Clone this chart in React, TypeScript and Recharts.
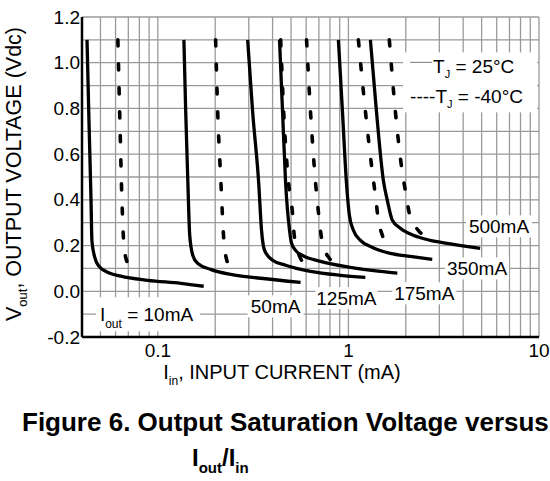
import React from "react";
import { LineChart, Line, XAxis, YAxis, CartesianGrid, ReferenceDot } from "recharts";

const FONT = "'Liberation Sans', Arial, Helvetica, sans-serif";

// [Iin (mA), Vout (V)]
const i10_25: number[][] = [[0.0425,1.1],[0.0435,0.75],[0.0446,0.4],[0.0451,0.22],[0.0468,0.145],[0.0491,0.11],[0.0534,0.087],[0.064,0.066],[0.0887,0.048],[0.132,0.035],[0.174,0.022]];
const i10_m40: number[][] = [[0.0617,1.1],[0.0632,0.75],[0.0648,0.4],[0.0664,0.2],[0.0689,0.127],[0.0723,0.08]];
const i50_25: number[][] = [[0.137,1.1],[0.14,0.79],[0.1436,0.486],[0.147,0.245],[0.1526,0.157],[0.162,0.122],[0.189,0.096],[0.241,0.074],[0.346,0.057],[0.561,0.039]];
const i50_m40: number[][] = [[0.201,1.1],[0.206,0.79],[0.214,0.486],[0.222,0.223],[0.23,0.136],[0.244,0.096]];
const i125_25: number[][] = [[0.296,1.1],[0.314,0.79],[0.338,0.477],[0.35,0.267],[0.363,0.179],[0.4,0.136],[0.468,0.114],[0.632,0.087],[0.908,0.07],[1.227,0.061]];
const i125_m40: number[][] = [[0.441,1.1],[0.457,0.79],[0.485,0.477],[0.509,0.341],[0.521,0.236],[0.561,0.144],[0.603,0.109]];
const i175_25: number[][] = [[0.435,1.1],[0.451,0.79],[0.468,0.477],[0.491,0.267],[0.503,0.21],[0.528,0.179],[0.574,0.157],[0.713,0.131],[1.024,0.105],[1.471,0.087],[1.806,0.079]];
const i175_m40: number[][] = [[0.603,1.1],[0.632,0.79],[0.672,0.477],[0.697,0.341],[0.731,0.21],[0.795,0.144],[0.855,0.118]];
const i350_25: number[][] = [[0.886,1.1],[0.93,0.79],[0.976,0.477],[1.012,0.332],[1.062,0.267],[1.156,0.223],[1.336,0.192],[1.66,0.166],[2.112,0.153],[2.753,0.14]];
const i350_m40: number[][] = [[1.128,1.1],[1.227,0.79],[1.336,0.52],[1.385,0.42],[1.436,0.311],[1.507,0.245],[1.6,0.201]];
const i500_25: number[][] = [[1.304,1.1],[1.402,0.79],[1.525,0.486],[1.6,0.398],[1.7,0.311],[1.872,0.276],[2.19,0.245],[2.688,0.223],[3.299,0.21],[4.911,0.188]];
const i500_m40: number[][] = [[1.639,1.1],[1.762,0.79],[1.918,0.52],[1.988,0.442],[2.112,0.324],[2.325,0.267],[2.592,0.236]];

const solidSeries = [i10_25, i50_25, i125_25, i175_25, i350_25, i500_25];
const dashedSeries = [i10_m40, i50_m40, i125_m40, i175_m40, i350_m40, i500_m40];

const xTicks = [0.05,0.06,0.07,0.08,0.09,0.1,0.2,0.3,0.4,0.5,0.6,0.7,0.8,0.9,1,2,3,4,5,6,7,8,9,10];
const xTickLabels: Record<string, string> = { "0.1": "0.1", "1": "1", "10": "10" };
const yTicks = [-0.2,-0.1,0,0.1,0.2,0.3,0.4,0.5,0.6,0.7,0.8,0.9,1,1.1,1.2];
const yTickLabels: Record<string, string> = { "-0.2": "-0.2", "0": "0.0", "0.2": "0.2", "0.4": "0.4", "0.6": "0.6", "0.8": "0.8", "1": "1.0", "1.2": "1.2" };

// curve labels: text, x (mA), y (V), box width, box height
const curveLabels = [
  { text: "50mA", x: 0.415, y: -0.066, w: 56, h: 22 },
  { text: "125mA", x: 0.976, y: -0.03, w: 62, h: 22 },
  { text: "175mA", x: 2.5, y: -0.009, w: 64, h: 22 },
  { text: "350mA", x: 4.73, y: 0.1, w: 64, h: 22 },
  { text: "500mA", x: 6.17, y: 0.284, w: 66, h: 22 },
];
const iout10Label = { x: 0.0887, y: -0.105 };
const legendAnchor = { x: 4.35, y: 0.914 };

const toData = (arr: number[][]) => arr.map(([x, y]) => ({ x, y }));

const XTick = (props: any) => {
  const { x, y, payload } = props;
  const t = xTickLabels[String(payload.value)];
  if (!t) return null;
  return (
    <text x={x} y={y + 12} textAnchor="middle" fontFamily={FONT} fontSize={19} fill="#000">{t}</text>
  );
};

const YTick = (props: any) => {
  const { x, y, payload } = props;
  const key = String(Math.round(payload.value * 10) / 10);
  const t = yTickLabels[key];
  if (!t) return null;
  return (
    <text x={x} y={y} textAnchor="end" dominantBaseline="central" fontFamily={FONT} fontSize={19} fill="#000">{t}</text>
  );
};

const makeLabelShape = (text: string, w: number, h: number) => (p: any) => (
  <g>
    <rect x={p.cx - w / 2} y={p.cy - h / 2} width={w} height={h} fill="#fff" />
    <text x={p.cx} y={p.cy} textAnchor="middle" dominantBaseline="central" fontFamily={FONT} fontSize={19} fill="#000">{text}</text>
  </g>
);

const ioutShape = (p: any) => (
  <g>
    <rect x={p.cx - 52} y={p.cy - 18} width={104} height={34} fill="#fff" />
    <text x={p.cx - 48} y={p.cy + 6} fontFamily={FONT} fontSize={19} fill="#000">
      I<tspan fontSize={12} dy={7}>out</tspan><tspan dy={-7}> = 10mA</tspan>
    </text>
  </g>
);

const legendShape = (p: any) => (
  <g>
    <rect x={p.cx - 67} y={p.cy - 30} width={134} height={60} fill="#fff" />
    <line x1={p.cx - 60} x2={p.cx - 38} y1={p.cy - 20} y2={p.cy - 20} stroke="#777" strokeWidth={1} />
    <text x={p.cx - 37} y={p.cy - 9} fontFamily={FONT} fontSize={19} fill="#000">
      T<tspan fontSize={11} dy={5}>J</tspan><tspan dy={-5}> = 25°C</tspan>
    </text>
    <text x={p.cx - 60} y={p.cy + 21} fontFamily={FONT} fontSize={19} fill="#000">
      ----T<tspan fontSize={11} dy={5}>J</tspan><tspan dy={-5}> = -40°C</tspan>
    </text>
  </g>
);

const verticalGen = (args: any) => {
  const ax = args && args.xAxis;
  const scale = ax && ax.scale;
  if (typeof scale === "function") return xTicks.map((t) => scale(t));
  if (scale && typeof scale.map === "function") return xTicks.map((t) => scale.map(t));
  return [];
};

export default function App() {
  return (
    <div style={{ position: "absolute", left: 0, top: 0, width: 550, height: 481, background: "#fff" }}>
      <LineChart width={550} height={481} margin={{ top: 17, right: 11, bottom: 114, left: 42 }}>
        <CartesianGrid stroke="#9a9a9a" strokeWidth={1.3} verticalCoordinatesGenerator={verticalGen} />
        <XAxis
          dataKey="x"
          type="number"
          scale="log"
          domain={[0.04, 10]}
          allowDataOverflow
          ticks={xTicks}
          interval={0}
          tick={<XTick />}
          tickLine={false}
          axisLine={{ stroke: "#000", strokeWidth: 2.5 }}
          height={30}
        />
        <XAxis xAxisId="top" orientation="top" type="number" scale="log" domain={[0.04, 10]} allowDataOverflow tick={false} tickLine={false} axisLine={{ stroke: "#000", strokeWidth: 2.5 }} height={0} />
        <YAxis
          type="number"
          domain={[-0.2, 1.2]}
          allowDataOverflow
          ticks={yTicks}
          interval={0}
          tick={<YTick />}
          tickLine={false}
          tickSize={0}
          tickMargin={2}
          axisLine={{ stroke: "#000", strokeWidth: 2.5 }}
          width={40}
        />
        <YAxis yAxisId="right" orientation="right" type="number" domain={[-0.2, 1.2]} tick={false} tickLine={false} axisLine={{ stroke: "#000", strokeWidth: 2.5 }} width={0} />
        {solidSeries.map((s, i) => (
          <Line key={"s" + i} data={toData(s)} dataKey="y" type="monotone" stroke="#000" strokeWidth={3.3} dot={false} isAnimationActive={false} />
        ))}
        {dashedSeries.map((s, i) => (
          <Line key={"d" + i} data={toData(s)} dataKey="y" type="monotone" stroke="#000" strokeWidth={3.6} strokeDasharray="6 18" strokeLinecap="round" dot={false} isAnimationActive={false} />
        ))}
        {curveLabels.map((l) => (
          <ReferenceDot key={l.text} x={l.x} y={l.y} r={0} shape={makeLabelShape(l.text, l.w, l.h)} />
        ))}
        <ReferenceDot x={iout10Label.x} y={iout10Label.y} r={0} shape={ioutShape} />
        <ReferenceDot x={legendAnchor.x} y={legendAnchor.y} r={0} shape={legendShape} />
      </LineChart>
      <svg width={550} height={481} style={{ position: "absolute", left: 0, top: 0, pointerEvents: "none" }}>
        <text transform="translate(21,174) rotate(-90)" textAnchor="middle" fontFamily={FONT} fontSize={21.5} fill="#000">
          V<tspan fontSize={13} dy={6}>out</tspan><tspan dy={-6}>, OUTPUT VOLTAGE (Vdc)</tspan>
        </text>
        <text x={282} y={379} textAnchor="middle" fontFamily={FONT} fontSize={20} fill="#000">
          I<tspan fontSize={12} dy={6}>in</tspan><tspan dy={-6}>, INPUT CURRENT (mA)</tspan>
        </text>
        <text x={22} y={431} fontFamily={FONT} fontSize={26} fontWeight="bold" fill="#000">Figure 6. Output Saturation Voltage versus</text>
        <text x={192} y={466} fontFamily={FONT} fontSize={24} fontWeight="bold" fill="#000">
          I<tspan fontSize={15} dy={7}>out</tspan><tspan dy={-7}>/I</tspan><tspan fontSize={15} dy={7}>in</tspan>
        </text>
      </svg>
    </div>
  );
}
